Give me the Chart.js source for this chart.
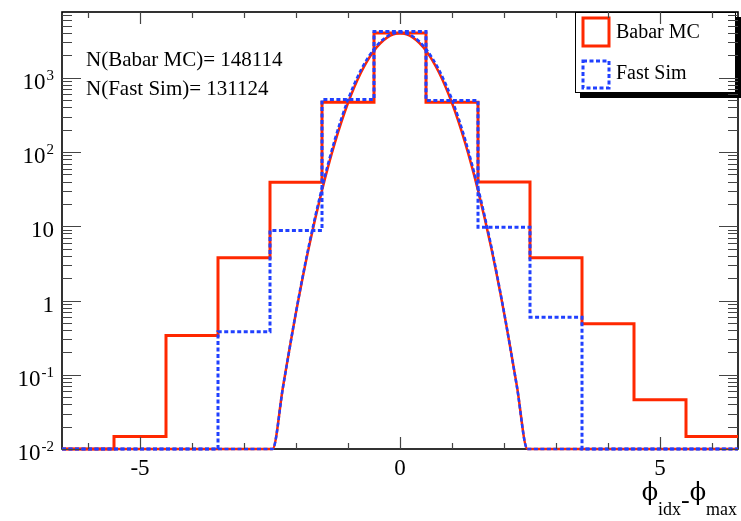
<!DOCTYPE html>
<html>
<head>
<meta charset="utf-8">
<script src="https://cdn.jsdelivr.net/npm/chart.js@4.4.0/dist/chart.umd.min.js"></script>
<style>
  body { margin: 0; background: #fff; }
  canvas { display: block; }
</style>
</head>
<body>
<canvas id="chart" width="741" height="521"></canvas>
<script>
// ----------------------------
// DATA
// ----------------------------
// bin centres, unit width
const binCenters = [-6, -5, -4, -3, -2, -1, 0, 1, 2, 3, 4, 5, 6];
const babarMC = [0, 0.0147, 0.337, 3.77, 39.3, 470, 4000, 470, 39.5, 3.77, 0.486, 0.0459, 0.0147];
const fastSim = [0, 0, 0, 0.38, 8.8, 512, 4220, 496, 9.7, 0.596, 0, 0, 0];

// fitted curves (0 = below the frame, drawn on the floor)
const fitX = [-6.5, -2.45, -2.25, -2, -1.75, -1.5, -1.25, -1, -0.75, -0.5, -0.25, 0, 0.25, 0.5, 0.75, 1, 1.25, 1.5, 1.75, 2, 2.25, 2.45, 6.5];
const babarFit = [0, 0, 0.069, 0.69, 5.3, 30.5, 135, 457, 1180, 2320, 3480, 3980, 3480, 2320, 1180, 457, 135, 30.5, 5.3, 0.69, 0.069, 0, 0];
const fastFit = [0, 0, 0.068, 0.7, 5.6, 33, 150, 510, 1280, 2450, 3600, 4100, 3600, 2450, 1280, 510, 150, 33, 5.6, 0.7, 0.068, 0, 0];

const xTickLabels = [-5, 0, 5];
const yTickValues = [0.01, 0.1, 1, 10, 100, 1000];
const yTickLabels = [["10", "-2"], ["10", "-1"], ["1", ""], ["10", ""], ["10", "2"], ["10", "3"]];

const yMin = 0.01, yMax = 7700;
const RED = "#ff2800";
const BLUE = "#2040ff";
const FONT = '"Liberation Serif", "Times New Roman", serif';

// ----------------------------
// HELPERS
// ----------------------------
const floorV = v => Math.max(v, yMin);

function histPoints(vals) {
    const edges = binCenters.map(c => c - 0.5).concat([binCenters[binCenters.length - 1] + 0.5]);
    return edges.map((e, i) => ({ x: e, y: floorV(vals[Math.min(i, vals.length - 1)]) }));
}

function curvePoints(vals) {
    return fitX.map((x, i) => ({ x: x, y: floorV(vals[i]) }));
}

function setFont(ctx, size, family) {
    ctx.font = size + "px " + (family || FONT);
}

// ----------------------------
// ROOT STYLE FRAME / TEXT
// ----------------------------
const rootFrame = {
    id: "rootFrame",
    beforeDatasetsDraw(chart) {
        const { ctx, chartArea: a } = chart;
        ctx.save();
        ctx.strokeStyle = "#000";
        ctx.lineWidth = 1.6;
        ctx.strokeRect(a.left, a.top, a.right - a.left, a.bottom - a.top);
        ctx.restore();
    },
    afterDatasetsDraw(chart) {
        const { ctx, chartArea: a, scales: { x, y } } = chart;
        ctx.save();

        // legend box with shadow
        const lx = 575, ly = 12, lw = 161, lh = 81;
        ctx.fillStyle = "#000";
        ctx.fillRect(lx + 5, ly + 5, lw, lh);
        ctx.fillStyle = "#fff";
        ctx.fillRect(lx, ly, lw, lh);
        ctx.strokeStyle = "#000";
        ctx.lineWidth = 1;
        ctx.strokeRect(lx + 0.5, ly + 0.5, lw - 1, lh - 1);

        ctx.lineWidth = 3;
        ctx.strokeStyle = RED;
        ctx.strokeRect(583, 18, 26, 28);
        ctx.strokeStyle = BLUE;
        ctx.setLineDash([4, 2.5]);
        ctx.strokeRect(583, 61, 26, 27);
        ctx.setLineDash([]);

        ctx.fillStyle = "#000";
        setFont(ctx, 20);
        ctx.textAlign = "left";
        ctx.textBaseline = "alphabetic";
        ctx.fillText("Babar MC", 616, 38);
        ctx.fillText("Fast Sim", 616, 79);

        // counts
        setFont(ctx, 21);
        ctx.fillText("N(Babar MC)= 148114", 86, 66);
        ctx.fillText("N(Fast Sim)= 131124", 86, 95);

        // ticks (inside, on all four sides)
        ctx.strokeStyle = "#444";
        ctx.lineWidth = 1.2;
        ctx.beginPath();
        for (let v = Math.ceil(x.min); v <= x.max; v++) {
            const px = Math.round(x.getPixelForValue(v)) + 0.5;
            const len = xTickLabels.includes(v) ? 12 : 6;
            ctx.moveTo(px, a.bottom); ctx.lineTo(px, a.bottom - len);
            ctx.moveTo(px, a.top); ctx.lineTo(px, a.top + len);
        }
        for (let d = -2; d <= 3; d++) {
            for (let m = 1; m <= 9; m++) {
                const v = m * Math.pow(10, d);
                if (v > y.max) break;
                const py = Math.round(y.getPixelForValue(v)) + 0.5;
                const len = m === 1 ? 19 : 10;
                ctx.moveTo(a.left, py); ctx.lineTo(a.left + len, py);
                ctx.moveTo(a.right, py); ctx.lineTo(a.right - len, py);
            }
        }
        ctx.stroke();

        // x tick labels
        ctx.fillStyle = "#000";
        setFont(ctx, 23);
        ctx.textAlign = "center";
        xTickLabels.forEach(v => {
            ctx.fillText(String(v), x.getPixelForValue(v), 475);
        });

        // y tick labels with exponents
        ctx.textAlign = "left";
        yTickValues.forEach((v, i) => {
            const py = y.getPixelForValue(v);
            const [base, exp] = yTickLabels[i];
            setFont(ctx, 15);
            const ew = exp ? ctx.measureText(exp).width : 0;
            setFont(ctx, 23);
            const bw = ctx.measureText(base).width;
            const right = a.left - 8;
            ctx.fillText(base, right - ew - bw - (exp ? 1 : 0), py + 11);
            if (exp) {
                setFont(ctx, 15);
                ctx.fillText(exp, right - ew, py + 2);
            }
        });

        // x axis title: phi_idx - phi_max
        const SYM = '"DejaVu Serif", serif';
        const parts = [["\u03d5", 24, 500, SYM], ["idx", 18, 515], ["-", 26, 508], ["\u03d5", 24, 500, SYM], ["max", 18, 515]];
        let total = 0;
        parts.forEach(p => { setFont(ctx, p[1], p[3]); total += ctx.measureText(p[0]).width; });
        let cx = 737 - total;
        parts.forEach(p => {
            setFont(ctx, p[1], p[3]);
            ctx.fillText(p[0], cx, p[2]);
            cx += ctx.measureText(p[0]).width;
        });

        ctx.restore();
    }
};

// ----------------------------
// CHART
// ----------------------------
const ctx = document.getElementById("chart").getContext("2d");

new Chart(ctx, {
    type: "line",
    data: {
        datasets: [
            {
                label: "Fast Sim",
                data: histPoints(fastSim),
                borderColor: BLUE,
                borderWidth: 3,
                borderDash: [4, 2.5],
                stepped: "before",
                order: 0
            },
            {
                label: "Fast Sim fit",
                data: curvePoints(fastFit),
                borderColor: BLUE,
                borderWidth: 2.5,
                borderDash: [4, 2.5],
                cubicInterpolationMode: "monotone",
                order: 1
            },
            {
                label: "Babar MC",
                data: histPoints(babarMC),
                borderColor: RED,
                borderWidth: 3,
                stepped: "before",
                order: 2
            },
            {
                label: "Babar MC fit",
                data: curvePoints(babarFit),
                borderColor: RED,
                borderWidth: 2.5,
                cubicInterpolationMode: "monotone",
                order: 3
            }
        ]
    },
    options: {
        responsive: false,
        animation: false,
        layout: { padding: { left: 62, top: 12, right: 3, bottom: 72 } },
        elements: {
            point: { radius: 0 },
            line: { fill: false, borderJoinStyle: "miter", borderCapStyle: "butt" }
        },
        datasets: { line: { clip: false } },
        plugins: {
            legend: { display: false },
            tooltip: { enabled: false }
        },
        scales: {
            x: { type: "linear", min: -6.5, max: 6.5, display: false },
            y: { type: "logarithmic", min: yMin, max: yMax, display: false }
        }
    },
    plugins: [rootFrame]
});
</script>
</body>
</html>
